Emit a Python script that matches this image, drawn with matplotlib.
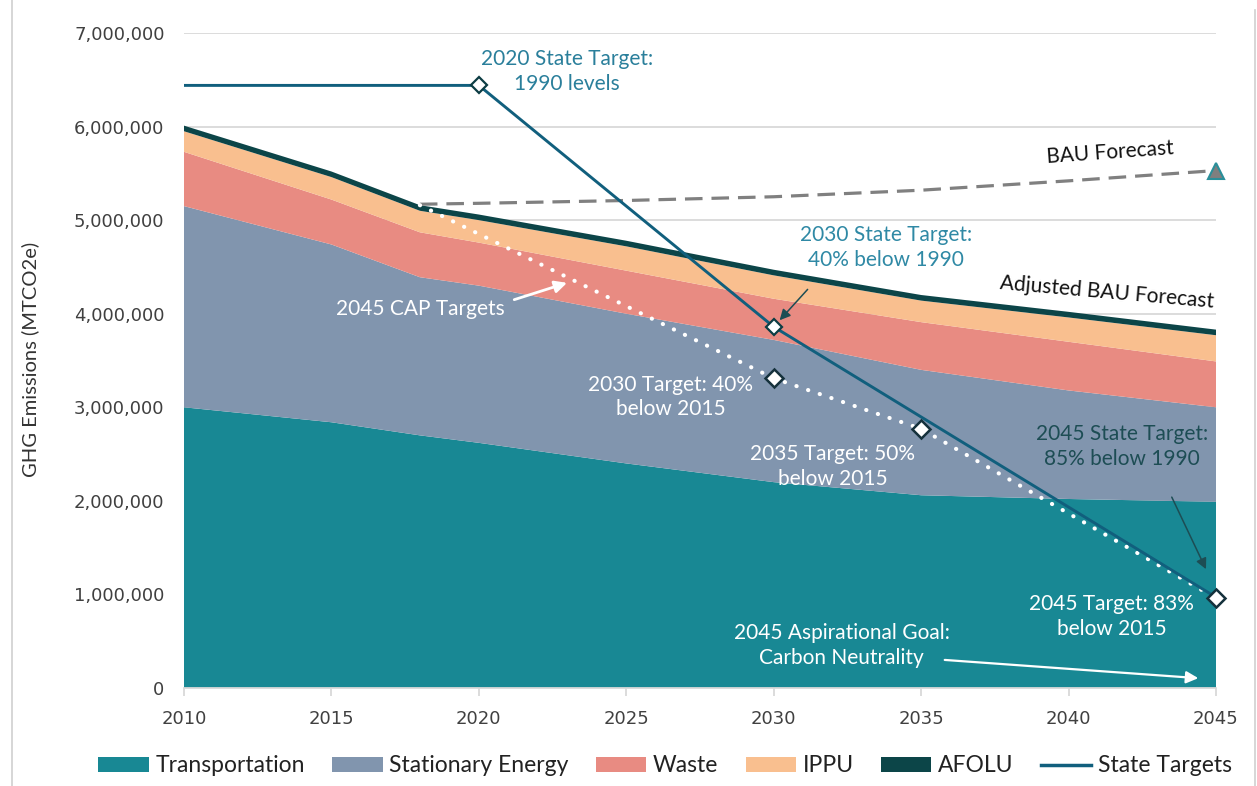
import matplotlib
matplotlib.use("Agg")
import matplotlib.pyplot as plt
from matplotlib.patches import Patch
from matplotlib.lines import Line2D
import numpy as np

# ---------------- data ----------------
years = [2010, 2015, 2018, 2020, 2025, 2030, 2035, 2040, 2045]
transportation = [3.00e6, 2.84e6, 2.70e6, 2.62e6, 2.40e6, 2.20e6, 2.06e6, 2.02e6, 1.99e6]
stationary_energy = [2.15e6, 1.90e6, 1.69e6, 1.68e6, 1.60e6, 1.52e6, 1.34e6, 1.16e6, 1.01e6]
waste = [0.58e6, 0.48e6, 0.48e6, 0.46e6, 0.46e6, 0.44e6, 0.51e6, 0.52e6, 0.49e6]
ippu = [0.22e6, 0.24e6, 0.23e6, 0.24e6, 0.26e6, 0.25e6, 0.23e6, 0.26e6, 0.28e6]
afolu = [0.06e6, 0.06e6, 0.06e6, 0.06e6, 0.06e6, 0.06e6, 0.06e6, 0.06e6, 0.06e6]

bau_years = [2018, 2020, 2025, 2030, 2035, 2040, 2045]
bau_forecast = [5.17e6, 5.18e6, 5.21e6, 5.25e6, 5.32e6, 5.42e6, 5.53e6]

state_years = [2010, 2020, 2030, 2045]
state_targets = [6.44e6, 6.44e6, 3.86e6, 0.97e6]
state_marker_years = [2020, 2030]
state_marker_values = [6.44e6, 3.86e6]

cap_years = [2018, 2030, 2035, 2045]
cap_targets = [5.16e6, 3.31e6, 2.77e6, 0.96e6]
cap_marker_years = [2030, 2035, 2045]
cap_marker_values = [3.31e6, 2.77e6, 0.96e6]

series_names = ["Transportation", "Stationary Energy", "Waste", "IPPU", "AFOLU"]
colors = ["#188894", "#8195ae", "#e88b82", "#f9bf8f", "#0c4548"]
state_color = "#115f7d"
y_ticks = [0, 1e6, 2e6, 3e6, 4e6, 5e6, 6e6, 7e6]
x_ticks = [2010, 2015, 2020, 2025, 2030, 2035, 2040, 2045]

# ---------------- figure ----------------
W, H = 1257, 786
fig = plt.figure(figsize=(W / 100, H / 100), dpi=100)
fig.patch.set_facecolor("white")
ax = fig.add_axes([184 / W, 1 - 688 / H, (1216 - 184) / W, (688 - 33) / H])

ANN = "Lato"
TICK = "DejaVu Sans"

ax.stackplot(years, transportation, stationary_energy, waste, ippu, afolu,
             colors=colors, linewidth=0, zorder=2)

ax.set_xlim(2010, 2045)
ax.set_ylim(0, 7e6)
ax.set_yticks(y_ticks)
ax.set_yticklabels([f"{int(v):,}" for v in y_ticks], fontfamily=TICK, fontsize=13, color="#404040")
ax.set_xticks(x_ticks)
ax.set_xticklabels([str(x) for x in x_ticks], fontfamily=TICK, fontsize=13, color="#404040")
ax.grid(axis="y", color="#d9d9d9", linewidth=1.3, zorder=0)
ax.set_axisbelow(True)
for s in ["left", "top", "right"]:
    ax.spines[s].set_visible(False)
ax.spines["bottom"].set_color("#d9d9d9")
ax.spines["bottom"].set_linewidth(1.3)
ax.tick_params(axis="y", length=0, pad=14)
ax.tick_params(axis="x", length=6, width=1.3, color="#d9d9d9", pad=10)

# BAU forecast
ax.plot(bau_years, bau_forecast, color="#808080", lw=2.3, dashes=(5.5, 2.8), zorder=4)
ax.plot([bau_years[-1]], [bau_forecast[-1]], marker="^", ms=12, color="#7f7f7f",
        markeredgecolor="#2a8f9a", markeredgewidth=1.5, zorder=6, clip_on=False)

# CAP targets (white dotted)
ax.plot(cap_years, cap_targets, color="white", lw=3.0, dashes=(0.05, 2.9),
        dash_capstyle="round", zorder=5)

# State targets
ax.plot(state_years, state_targets, color=state_color, lw=2.1, zorder=6)

ax.plot(state_marker_years, state_marker_values, ls="none", marker="D", ms=8.5,
        mfc="white", mec="#0d3d44", mew=1.6, zorder=7)
ax.plot(cap_marker_years, cap_marker_values, ls="none", marker="D", ms=9.5,
        mfc="white", mec="#15313c", mew=1.8, zorder=7, clip_on=False)

# ---------------- annotations ----------------
fs = 15
ls = 1.3
ax.text(2023.0, 6.59e6, "2020 State Target:\n1990 levels", ha="center", va="center",
        fontsize=fs, family=ANN, color="#2a7f9b", linespacing=ls, zorder=8)
ax.text(2041.4, 5.72e6, "BAU Forecast", ha="center", va="center", rotation=4,
        fontsize=fs, family=ANN, color="#111111", zorder=8)
ax.text(2033.8, 4.71e6, "2030 State Target:\n40% below 1990", ha="center", va="center",
        fontsize=fs, family=ANN, color="#2f89a5", linespacing=ls, zorder=8)
ax.text(2041.3, 4.23e6, "Adjusted BAU Forecast", ha="center", va="center", rotation=-5,
        fontsize=fs, family=ANN, color="#111111", zorder=8)
ax.text(2018.0, 4.05e6, "2045 CAP Targets", ha="center", va="center",
        fontsize=fs, family=ANN, color="white", zorder=8)
ax.text(2026.5, 3.11e6, "2030 Target: 40%\nbelow 2015", ha="center", va="center",
        fontsize=fs, family=ANN, color="white", linespacing=ls, zorder=8)
ax.text(2032.0, 2.37e6, "2035 Target: 50%\nbelow 2015", ha="center", va="center",
        fontsize=fs, family=ANN, color="white", linespacing=ls, zorder=8)
ax.text(2041.8, 2.58e6, "2045 State Target:\n85% below 1990", ha="center", va="center",
        fontsize=fs, family=ANN, color="#1d4d54", linespacing=ls, zorder=8)
ax.text(2041.45, 0.76e6, "2045 Target: 83%\nbelow 2015", ha="center", va="center",
        fontsize=fs, family=ANN, color="white", linespacing=ls, zorder=8)
ax.text(2032.3, 0.45e6, "2045 Aspirational Goal:\nCarbon Neutrality", ha="center", va="center",
        fontsize=fs, family=ANN, color="white", linespacing=ls, zorder=8)

ax.annotate("", xy=(2022.99, 4.33e6), xytext=(2021.2, 4.15e6),
            arrowprops=dict(arrowstyle="-|>", color="white", lw=2.0, mutation_scale=18,
                            shrinkA=0, shrinkB=0), zorder=8)
ax.annotate("", xy=(2030.2, 3.93e6), xytext=(2031.15, 4.26e6),
            arrowprops=dict(arrowstyle="-|>", color="#1d4d54", lw=1.1, mutation_scale=16,
                            shrinkA=0, shrinkB=0), zorder=8)
ax.annotate("", xy=(2044.66, 1.27e6), xytext=(2043.5, 2.04e6),
            arrowprops=dict(arrowstyle="-|>", color="#1d4d54", lw=1.1, mutation_scale=16,
                            shrinkA=0, shrinkB=0), zorder=8)
ax.annotate("", xy=(2044.4, 0.105e6), xytext=(2035.8, 0.30e6),
            arrowprops=dict(arrowstyle="-|>", color="white", lw=1.6, mutation_scale=18,
                            shrinkA=0, shrinkB=0), zorder=8)

# y label
fig.text(30 / W, 1 - 359 / H, "GHG Emissions (MTCO2e)", rotation=90, ha="center", va="center",
         fontsize=14.5, family=ANN, color="#333333")

# legend
handles = [Patch(facecolor=c, edgecolor="none") for c in colors]
handles.append(Line2D([0], [0], color=state_color, lw=2.5))
labels = series_names + ["State Targets"]
leg = fig.legend(handles, labels, loc="center", bbox_to_anchor=(665 / W, 1 - 766 / H),
                 ncol=6, frameon=False, prop={"family": ANN, "size": 16.5},
                 handlelength=2.2, handleheight=0.62, handletextpad=0.28, columnspacing=1.2)
for t in leg.get_texts():
    t.set_color("#222222")

# border lines
fig.add_artist(Line2D([12 / W, 12 / W], [0, 1], color="#d0d0d0", lw=1.2))
fig.add_artist(Line2D([1255 / W, 1255 / W], [0, 1 - 10 / H], color="#d0d0d0", lw=1.2))

fig.savefig("out.png", dpi=100, facecolor="white")
